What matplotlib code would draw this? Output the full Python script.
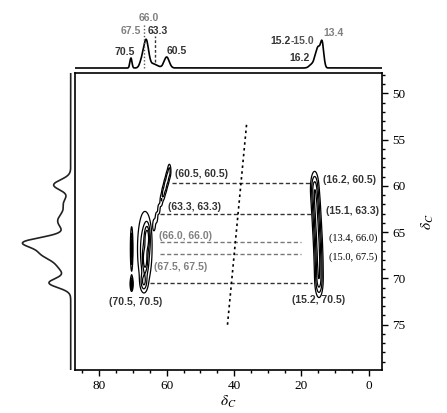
import matplotlib.pyplot as plt
import numpy as np

plt.rcParams['font.family'] = ['Liberation Serif', 'DejaVu Serif']
plt.rcParams['mathtext.fontset'] = 'stix'

# Peaks in the top projection: shift, height, width
top_shift = [70.6, 67.4, 66.1, 64.0, 60.0, 16.8, 15.8, 15.0, 13.9]
top_height = [10, 7, 27, 4, 11, 4, 8, 17, 26]
top_width = [0.3, 0.6, 0.7, 1.3, 0.75, 0.8, 0.5, 0.5, 0.5]

# Peaks in the left projection: shift, height, width
left_shift = [59.9, 61.8, 63.8, 66.1, 67.3, 68.6, 70.5]
left_height = [17, 6, 13, 44, 24, 12, 21]
left_width = [0.55, 0.6, 0.9, 0.55, 0.6, 0.8, 0.5]

# 2D cross peaks: x shift, y shift, x width, y width, amplitude
pk_x = [59.2, 59.8, 60.4, 61.0, 61.6, 62.3, 63.0, 63.7, 66.5, 65.8, 66.4, 66.8,
        70.4, 70.4, 16.1, 15.7, 15.4, 15.1, 14.9, 14.8]
pk_y = [58.4, 59.2, 60.0, 60.8, 61.6, 62.5, 63.4, 64.2, 66.8, 65.6, 68.0, 70.4,
        66.8, 70.6, 60.2, 62.2, 64.2, 66.2, 68.2, 70.3]
pk_sx = [0.35, 0.35, 0.35, 0.35, 0.3, 0.3, 0.3, 0.3, 1.5, 0.5, 0.5, 0.6,
         0.22, 0.25, 0.75, 0.75, 0.75, 0.75, 0.75, 0.75]
pk_sy = [0.55, 0.55, 0.55, 0.55, 0.5, 0.5, 0.5, 0.5, 2.8, 0.9, 0.9, 0.6,
         1.4, 0.45, 1.1, 1.1, 1.1, 1.1, 1.1, 1.1]
pk_amp = [0.6, 0.6, 0.6, 0.55, 0.45, 0.4, 0.4, 0.35, 0.7, 0.9, 0.8, 0.6,
          1.0, 1.2, 0.9, 0.9, 0.9, 0.9, 0.9, 0.9]

# Dashed connecting lines: y, x start, x end, color
link_y = [59.7, 63.05, 66.1, 67.4, 70.5]
link_x0 = [58.5, 62.0, 62.0, 62.0, 65.0]
link_x1 = [16.6, 16.2, 20.0, 20.0, 17.0]
link_col = ['#333333', '#333333', '#777777', '#777777', '#333333']

# Labels of the cross peaks
lab_text = ['(60.5, 60.5)', '(63.3, 63.3)', '(66.0, 66.0)', '(67.5, 67.5)',
            '(70.5, 70.5)', '(16.2, 60.5)', '(15.1, 63.3)', '(15.2, 70.5)']
lab_x = [57.5, 59.5, 62.3, 63.8, 77.0, 13.7, 12.8, 22.9]
lab_y = [58.7, 62.3, 65.4, 68.8, 72.5, 59.4, 62.7, 72.3]
lab_col = ['#333333', '#333333', '#808080', '#808080', '#333333',
           '#333333', '#333333', '#333333']
serif_text = ['(13.4, 66.0)', '(15.0, 67.5)']
serif_x = [11.8, 11.8]
serif_y = [65.65, 67.75]

# Labels above the top projection
top_text = ['66.0', '67.5', '63.3', '70.5', '60.5', '15.2', '-15.0', '13.4', '16.2']
top_tx = [65.2, 70.6, 62.5, 72.6, 57.0, 23.2, 23.2, 10.6, 20.6]
top_ty = [50, 36.7, 36.7, 15.7, 17.3, 27.3, 27.3, 34.7, 9.7]
top_ha = ['center', 'center', 'center', 'center', 'center', 'right', 'left',
          'center', 'center']
top_col = ['#808080', '#808080', '#333333', '#333333', '#333333',
           '#333333', '#555555', '#808080', '#333333']

fig = plt.figure(figsize=(4.47, 4.13), dpi=100)
ax = fig.add_axes([75 / 447, 43 / 413, 307 / 447, 297 / 413])
ax_top = fig.add_axes([75 / 447, 341 / 413, 307 / 447, 70 / 413], sharex=ax)
ax_left = fig.add_axes([0, 43 / 413, 73 / 447, 297 / 413], sharey=ax)

# 2D contour map
gx = np.linspace(-4, 88, 1400)
gy = np.linspace(47, 80, 800)
X, Y = np.meshgrid(gx, gy)
Z = np.zeros_like(X)
for i in range(len(pk_x)):
    Z += pk_amp[i] * np.exp(-((X - pk_x[i]) ** 2 / (2 * pk_sx[i] ** 2)
                              + (Y - pk_y[i]) ** 2 / (2 * pk_sy[i] ** 2)))
ax.contour(X, Y, Z, levels=[0.25, 0.5, 0.8, 1.1], colors='black', linewidths=0.9)

for i in range(len(link_y)):
    ax.plot([link_x0[i], link_x1[i]], [link_y[i], link_y[i]], color=link_col[i],
            lw=1.0, dashes=(3, 1.8))

# tilted dotted line
ax.plot([36.3, 42.0], [53.4, 75.2], color='black', lw=1.2, dashes=(1.5, 2))

for i in range(len(lab_text)):
    ax.text(lab_x[i], lab_y[i], lab_text[i], color=lab_col[i], fontsize=7.5,
            fontweight='bold', family='Liberation Sans', ha='left', va='center')
for i in range(len(serif_text)):
    ax.text(serif_x[i], serif_y[i], serif_text[i], color='black', fontsize=7.5,
            ha='left', va='center')

ax.set_xlim(87.2, -3.9)
ax.set_ylim(79.9, 47.8)
ax.set_xticks([80, 60, 40, 20, 0])
ax.set_xticks(np.arange(85, -4, -5), minor=True)
ax.set_yticks([50, 55, 60, 65, 70, 75])
ax.set_yticks(np.arange(48, 80, 1), minor=True)
ax.yaxis.tick_right()
ax.tick_params(axis='both', which='major', labelsize=9.5, length=4, width=1)
ax.tick_params(axis='both', which='minor', length=2.5, width=1)
ax.set_xlabel(r'$\delta_C$', fontsize=11, labelpad=1)
ax.set_ylabel(r'$\delta_C$', fontsize=11, rotation=90)
ax.yaxis.set_label_position('right')
ax.yaxis.set_label_coords(1.125, 0.5)
for s in ax.spines.values():
    s.set_linewidth(1.2)

# top projection
xs = np.linspace(-4, 88, 3000)
spec = np.zeros_like(xs)
for i in range(len(top_shift)):
    spec += top_height[i] * np.exp(-(xs - top_shift[i]) ** 2 / (2 * top_width[i] ** 2))
ax_top.plot(xs, spec, color='black', lw=1.2)
ax_top.plot([66.6, 66.6], [0, 45], color='#555555', lw=1, dashes=(1, 1.5))
ax_top.plot([63.5, 63.5], [6, 32], color='#333333', lw=1, dashes=(2, 1.5))
for i in range(len(top_text)):
    ax_top.text(top_tx[i], top_ty[i], top_text[i], color=top_col[i], fontsize=7.5,
                fontweight='bold', family='Liberation Sans', ha=top_ha[i],
                va='center')
ax_top.set_ylim(-4, 66)
ax_top.axis('off')

# left projection
ys = np.linspace(47, 80, 3000)
proj = np.zeros_like(ys)
for i in range(len(left_shift)):
    proj += left_height[i] * np.exp(-(ys - left_shift[i]) ** 2 / (2 * left_width[i] ** 2))
ax_left.plot(proj, ys, color='#222222', lw=1.2)
ax_left.set_xlim(70.7, -2.3)
ax_left.axis('off')

fig.savefig('out.png', dpi=100)
